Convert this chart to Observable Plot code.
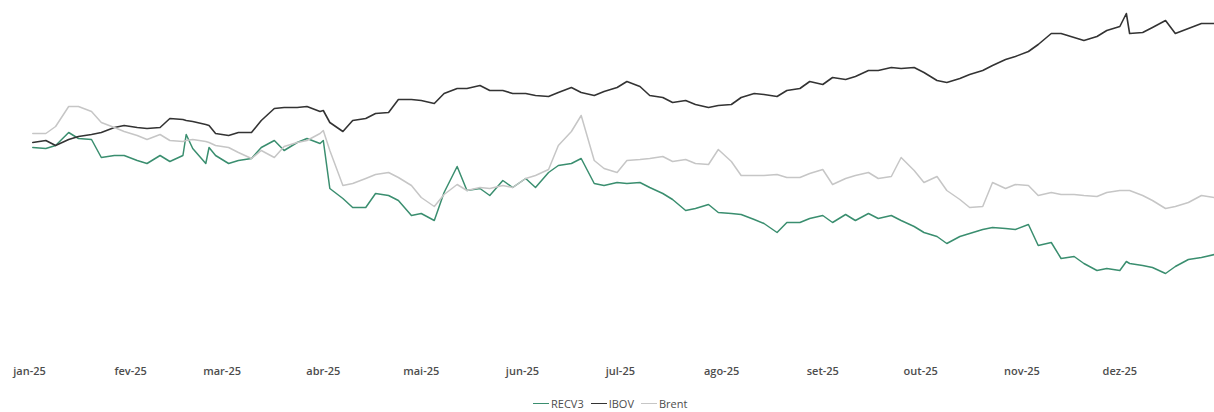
<!DOCTYPE html>
<html>
<head>
<meta charset="utf-8">
<script src="https://cdn.jsdelivr.net/npm/d3@7"></script>
<script src="https://cdn.jsdelivr.net/npm/@observablehq/plot@0.6"></script>
<style>
  html, body { margin: 0; padding: 0; background: #fff; }
  #chart { width: 1214px; height: 412px; position: relative; font-family: "Open Sans", sans-serif; }
  #legend { position: absolute; left: 533px; top: 396px; display: flex; align-items: center; font-size: 11px; color: #4d4d4d; white-space: nowrap; }
  #legend .item { display: flex; align-items: center; margin-right: 7px; }
  #legend .sw { width: 16px; height: 0; border-top-width: 1.5px; border-top-style: solid; margin-right: 2px; }
</style>
</head>
<body>
<div id="chart"></div>
<script>
// ---- data (index) ----
const dates = [
  "2025-01-02","2025-01-06","2025-01-09","2025-01-13","2025-01-16","2025-01-20","2025-01-23","2025-01-27","2025-01-30",
  "2025-02-03","2025-02-06","2025-02-10","2025-02-13","2025-02-17","2025-02-18","2025-02-20","2025-02-24","2025-02-25","2025-02-27",
  "2025-03-03","2025-03-06","2025-03-10","2025-03-13","2025-03-17","2025-03-20","2025-03-24","2025-03-27","2025-03-31",
  "2025-04-01","2025-04-03","2025-04-07","2025-04-10","2025-04-14","2025-04-17","2025-04-21","2025-04-24","2025-04-28",
  "2025-05-01","2025-05-05","2025-05-08","2025-05-12","2025-05-15","2025-05-19","2025-05-22","2025-05-26","2025-05-29",
  "2025-06-02","2025-06-05","2025-06-09","2025-06-12","2025-06-16","2025-06-19","2025-06-23","2025-06-26","2025-06-30",
  "2025-07-03","2025-07-07","2025-07-10","2025-07-14","2025-07-17","2025-07-21","2025-07-24","2025-07-28","2025-07-31",
  "2025-08-04","2025-08-07","2025-08-11","2025-08-14","2025-08-18","2025-08-21","2025-08-25","2025-08-28",
  "2025-09-01","2025-09-04","2025-09-08","2025-09-11","2025-09-15","2025-09-18","2025-09-22","2025-09-25","2025-09-29",
  "2025-10-02","2025-10-06","2025-10-09","2025-10-13","2025-10-16","2025-10-20","2025-10-23","2025-10-27","2025-10-30",
  "2025-11-03","2025-11-06","2025-11-10","2025-11-13","2025-11-17","2025-11-20","2025-11-24","2025-11-27",
  "2025-12-01","2025-12-03","2025-12-04","2025-12-08","2025-12-11","2025-12-15","2025-12-18","2025-12-22","2025-12-26","2025-12-30"
];

const recv3 = [
  99.5,99.25,100,103.25,101.75,101.5,97,97.5,97.5,
  96.25,95.5,97.5,96,97.5,102.75,99.25,95.5,99.5,97.5,
  95.5,96.25,96.75,99.5,101.25,98.75,100.75,101.75,100.5,
  101.25,89.25,86.75,84.5,84.5,88,87.5,86.25,82.5,
  83,81.25,88.25,94.75,88.75,89.25,87.5,91.25,89.5,
  91.75,89.5,93.25,95,95.5,96.75,90.5,90,90.75,
  90.5,90.75,89.5,88,86.5,83.75,84.25,85.25,83.25,
  83,82.75,81.5,80.5,78.25,80.75,80.75,81.75,
  82.5,80.75,82.75,81.25,83,81.75,82.5,81.25,79.75,
  78.25,77.25,75.5,77.25,78,79,79.5,79.25,79,
  80.25,75,75.75,71.75,72.25,70.5,68.75,69.25,
  68.75,71,70.5,70,69.5,68,69.75,71.5,72,72.75
];

const ibov = [
  100.75,101.25,100,101.5,102.25,102.75,103.25,104.5,105,
  104.5,104.25,104.5,106.75,106.5,106.25,106,105.25,105,103,
  102.5,103.25,103.25,106.25,109.25,109.5,109.5,109.75,108.5,
  108.75,105.75,103.5,106.25,106.75,108,108.25,111.5,111.5,
  111.25,110.5,113,114.25,114.25,115,113.75,113.75,113,
  113,112.5,112.25,113.25,114.5,113.25,112.5,113.5,114.5,
  116,114.75,112.5,112,110.75,111.25,110.25,109.5,110,
  110.25,112,113,112.75,112.25,113.75,114.25,116,
  115.25,117,116.5,117.25,118.75,118.75,119.5,119.25,119.5,
  118.25,116.25,115.75,116.75,117.75,118.75,120,121.5,122.25,
  123.5,125.25,128,128,127,126.25,127.25,128.75,
  129.75,133,128,128.25,129.5,131.25,128,129.25,130.5,130.5
];

const brent = [
  103,103,104.75,109.75,109.75,108.5,105.75,104.5,103.5,
  102.5,101.5,102.75,101.25,101,101.25,101.5,101,100.75,100,
  99.5,98.25,96.75,98.75,97,99.75,100.75,101.25,103,
  103.75,98.75,90,90.5,91.75,92.75,93.25,92,90,
  87,84.75,87.75,90.25,88.75,89.5,89.25,90,89.5,
  91.75,92.5,94,100,103.5,107.5,96.25,94.25,93.25,
  96.25,96.5,96.75,97.25,96,96.5,95.5,95.25,99,
  96,92.5,92.5,92.5,92.75,92,92,93,
  94,90.25,91.75,92.5,93.25,91.75,92.25,97,93.75,
  90.75,92.25,88.75,86.5,84.5,84.75,90.75,89.25,90.25,
  90,87.5,88.25,87.75,87.75,87.5,87.25,88.25,
  88.75,88.75,88.75,87.5,86.25,84.25,84.75,85.75,87.5,87
];

const seriesNames = ["RECV3", "IBOV", "Brent"];
const seriesColors = ["#3a8e6f", "#333333", "#c6c6c6"];
const monthLabels = ["jan-25","fev-25","mar-25","abr-25","mai-25","jun-25","jul-25","ago-25","set-25","out-25","nov-25","dez-25"];

// ---- build table ----
const parse = d3.utcParse("%Y-%m-%d");
const valuesBySeries = [recv3, ibov, brent];
const rows = [];
seriesNames.forEach((name, si) => {
  dates.forEach((d, i) => rows.push({ date: parse(d), value: valuesBySeries[si][i], series: name }));
});
const monthTicks = monthLabels.map((_, i) => new Date(Date.UTC(2025, i, 1)));

const plot = Plot.plot({
  width: 1214,
  height: 392,
  marginTop: 0,
  marginLeft: 29,
  marginRight: 0,
  marginBottom: 52,
  style: { fontFamily: "Open Sans, sans-serif", fontSize: "11px", color: "#4d4d4d", background: "#fff" },
  x: { type: "utc", domain: [new Date(Date.UTC(2025, 0, 1)), new Date(Date.UTC(2025, 11, 30))] },
  y: { domain: [51.25, 136.25], axis: null },
  color: { domain: seriesNames, range: seriesColors },
  marks: [
    Plot.axisX({
      ticks: monthTicks,
      tickSize: 0,
      tickPadding: 27,
      tickFormat: (d) => monthLabels[d.getUTCMonth()],
      fill: "#4d4d4d",
      fontWeight: 600,
      label: null
    }),
    Plot.lineY(rows.filter(r => r.series === "RECV3"), { x: "date", y: "value", stroke: "series", strokeWidth: 1.5 }),
    Plot.lineY(rows.filter(r => r.series === "IBOV"), { x: "date", y: "value", stroke: "series", strokeWidth: 1.6 }),
    Plot.lineY(rows.filter(r => r.series === "Brent"), { x: "date", y: "value", stroke: "series", strokeWidth: 1.5 })
  ]
});

const chart = document.getElementById("chart");
chart.appendChild(plot);

const legend = document.createElement("div");
legend.id = "legend";
seriesNames.forEach((name, i) => {
  const item = document.createElement("div");
  item.className = "item";
  const sw = document.createElement("span");
  sw.className = "sw";
  sw.style.borderTopColor = seriesColors[i];
  const t = document.createElement("span");
  t.textContent = name;
  item.appendChild(sw);
  item.appendChild(t);
  legend.appendChild(item);
});
chart.appendChild(legend);
</script>
</body>
</html>
